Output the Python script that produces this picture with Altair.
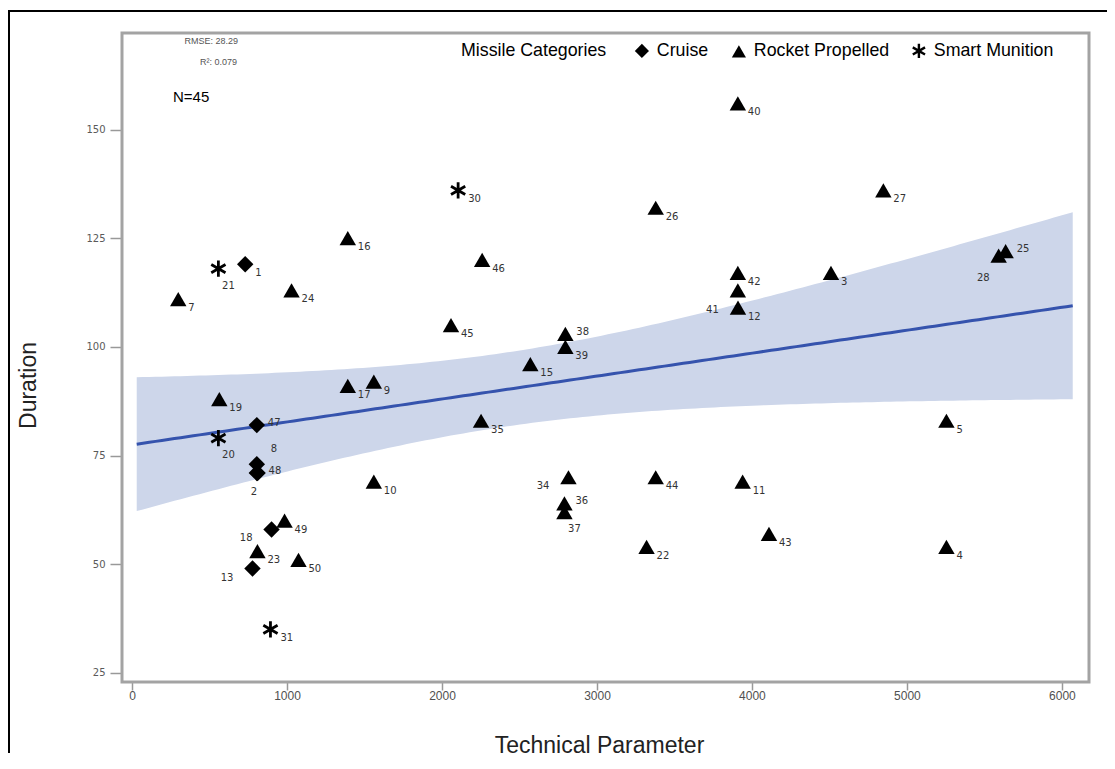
import altair as alt
import pandas as pd
import numpy as np

# ---------------- data ----------------
ids = [1, 2, 3, 4, 5, 7, 8, 9, 10, 11, 12, 13, 15, 16, 17, 18, 19, 20, 21, 22, 23, 24, 25,
       26, 27, 28, 30, 31, 34, 35, 36, 37, 38, 39, 40, 41, 42, 43, 44, 45, 46, 47, 48, 49, 50]
tech = [730, 805, 4510, 5255, 5255, 298, 805, 1560, 1560, 3940, 3910, 777, 2570, 1392, 1392,
        900, 563, 557, 557, 3320, 809, 1029, 5637, 3379, 4848, 5592, 2104, 893, 2816, 2252,
        2790, 2790, 2796, 2796, 3909, 3909, 3909, 4110, 3379, 2058, 2259, 805, 810, 984, 1074]
duration = [119, 71, 117, 54, 83, 111, 73, 92, 69, 69, 109, 49, 96, 125, 91, 58, 88, 79, 118,
            54, 53, 113, 122, 132, 136, 121, 136, 35, 70, 83, 64, 62, 103, 100, 156, 113, 117,
            57, 70, 105, 120, 82, 71, 60, 51]
C, R, S = "Cruise", "Rocket Propelled", "Smart Munition"
category = [C, C, R, R, R, R, C, R, R, R, R, C, R, R, R, C, R, S, S, R, R, R, R,
            R, R, R, S, S, R, R, R, R, R, R, R, R, R, R, R, R, R, C, C, R, R]
label_pos = ["SE", "B", "SE", "SE", "SE", "SE", "NE", "SE", "SE", "SE", "SE", "SW", "SE", "SE", "SE",
             "SW", "SE", "S", "S", "SE", "SE", "SE", "E", "SE", "SE", "W2", "SE", "SE", "SW", "SE",
             "E", "S", "E", "SE", "SE", "LW", "SE", "SE", "SE", "SE", "SE", "E", "E", "SE", "SE"]
categories = [C, R, S]
x_ticks = [0, 1000, 2000, 3000, 4000, 5000, 6000]
y_ticks = [25, 50, 75, 100, 125, 150]
stats_text = ["RMSE: 28.29", "R\u00b2: 0.079", "N=45"]

df = pd.DataFrame({"id": ids, "tech": tech, "duration": duration,
                   "category": category, "pos": label_pos})

# ---------------- linear fit with 95% confidence band ----------------
xv = np.array(tech, float)
yv = np.array(duration, float)
n = len(xv)
b1, b0 = np.polyfit(xv, yv, 1)
resid = yv - (b0 + b1 * xv)
s = np.sqrt((resid ** 2).sum() / (n - 2))
xbar = xv.mean()
sxx = ((xv - xbar) ** 2).sum()
t_crit = 2.0167
xg = np.linspace(30, 6070, 150)
yhat = b0 + b1 * xg
half = t_crit * s * np.sqrt(1.0 / n + (xg - xbar) ** 2 / sxx)
fit = pd.DataFrame({"x": xg, "fit": yhat, "lo": yhat - half, "hi": yhat + half})

# ---------------- styling ----------------
xs = alt.Scale(domain=[-65, 6175], nice=False, zero=False)
ys = alt.Scale(domain=[22.9, 172.2], nice=False, zero=False)

xaxis = alt.Axis(values=x_ticks, format="d", grid=False, domain=False, tickSize=8,
                 tickColor="#999999", tickWidth=1.5, labelFont="Liberation Sans",
                 labelFontSize=12, labelColor="#505050", labelPadding=0, labelFlush=False,
                 labelOverlap=False, titleFont="Liberation Sans", titleFontSize=23,
                 titleFontWeight="normal", titleColor="#222222", titleX=477, titleY=63,
                 titleBaseline="middle", titleAlign="center")
yaxis = alt.Axis(values=y_ticks, format="d", grid=False, domain=False, tickSize=12,
                 tickColor="#999999", tickWidth=1.5, labelFont="DejaVu Sans",
                 labelFontSize=10, labelColor="#5a5a5a", labelPadding=5, labelOverlap=False,
                 titleFont="Liberation Sans", titleFontSize=23, titleFontWeight="normal",
                 titleColor="#222222", titleX=-94, titleY=352, titleAngle=270,
                 titleBaseline="middle", titleAlign="center")


def X(field):
    return alt.X(field, type="quantitative", scale=xs, axis=xaxis, title="Technical Parameter")


def Y(field):
    return alt.Y(field, type="quantitative", scale=ys, axis=yaxis, title="Duration")


# asterisk symbol: three thin bars (vertical and +-30 deg)
def bar_path(theta, w=0.17):
    d = np.array([np.cos(theta), np.sin(theta)])
    nrm = np.array([-np.sin(theta), np.cos(theta)])
    pts = [d + nrm * w, d - nrm * w, -d - nrm * w, -d + nrm * w]
    return "M" + " L".join(f"{p[0]:.3f},{p[1]:.3f}" for p in pts) + " Z"


asterisk = " ".join(bar_path(np.deg2rad(a)) for a in (90, 30, 150))
shapes = ["diamond", "triangle-up", asterisk]

band = alt.Chart(fit).mark_area(color="#cdd6ea", opacity=1).encode(
    x=X("x"), y=Y("lo"), y2="hi:Q")
line = alt.Chart(fit).mark_line(color="#3553ad", strokeWidth=3).encode(
    x=X("x"), y=Y("fit"))

points = alt.Chart(df).mark_point(filled=True, size=270, opacity=1, color="black").encode(
    x=X("tech"), y=Y("duration"),
    shape=alt.Shape("category:N",
                    scale=alt.Scale(domain=categories, range=shapes),
                    legend=alt.Legend(title="Missile Categories", orient="none",
                                      legendX=339, legendY=9, direction="horizontal",
                                      titleOrient="left", titleFont="Liberation Sans",
                                      titleFontSize=17.8, titleFontWeight="normal",
                                      titleColor="black", labelFont="Liberation Sans",
                                      labelFontSize=17.8, labelColor="black",
                                      symbolSize=200, symbolFillColor="black",
                                      symbolStrokeColor="black", symbolOpacity=1,
                                      labelOffset=6, columnPadding=19, titlePadding=26,
                                      padding=0)))

placements = {
    "SE": dict(align="left", dx=10, dy=9),
    "E": dict(align="left", dx=11, dy=-2),
    "NE": dict(align="left", dx=14, dy=-15),
    "SW": dict(align="right", dx=-19, dy=9),
    "S": dict(align="center", dx=10, dy=17),
    "B": dict(align="center", dx=-3, dy=19),
    "LW": dict(align="right", dx=-19, dy=20),
    "W2": dict(align="right", dx=-9, dy=22),
}
label_layers = []
for key, spec in placements.items():
    label_layers.append(
        alt.Chart(df).transform_filter(alt.datum.pos == key).mark_text(
            baseline="middle", fontSize=10, font="DejaVu Sans", color="#333333", **spec
        ).encode(x=X("tech"), y=Y("duration"), text="id:N"))

one = pd.DataFrame({"k": [0]})
rmse = alt.Chart(one).mark_text(align="right", baseline="middle", fontSize=9,
                                font="Liberation Sans", color="#555555").encode(
    x=alt.value(116), y=alt.value(8), text=alt.value(stats_text[0]))
r2 = alt.Chart(one).mark_text(align="right", baseline="middle", fontSize=9,
                              font="Liberation Sans", color="#555555").encode(
    x=alt.value(115), y=alt.value(29), text=alt.value(stats_text[1]))
nlab = alt.Chart(one).mark_text(align="left", baseline="middle", fontSize=15,
                                font="Liberation Sans", color="black").encode(
    x=alt.value(51), y=alt.value(64), text=alt.value(stats_text[2]))

plot_frame = alt.Chart(one).mark_rect(fill=None, fillOpacity=0, stroke="#a3a3a3",
                                      strokeWidth=3).encode(
    x=alt.value(0), x2=alt.value(967), y=alt.value(0), y2=alt.value(649))
frame_top = alt.Chart(one).mark_rule(color="black", strokeWidth=2).encode(
    x=alt.value(-114), x2=alt.value(985), y=alt.value(-22))
frame_left = alt.Chart(one).mark_rule(color="black", strokeWidth=2).encode(
    x=alt.value(-113), y=alt.value(-22), y2=alt.value(720))

chart = alt.layer(band, line, points, *label_layers, rmse, r2, nlab, plot_frame,
                  frame_top, frame_left
                  ).properties(
    width=967, height=649,
    padding={"left": 114, "top": 25, "right": 18, "bottom": 79},
    autosize=alt.AutoSizeParams(type="none"),
).configure_view(stroke=None).configure(background="white")

chart.save("out.html", embed_options={"renderer": "svg", "actions": False})
